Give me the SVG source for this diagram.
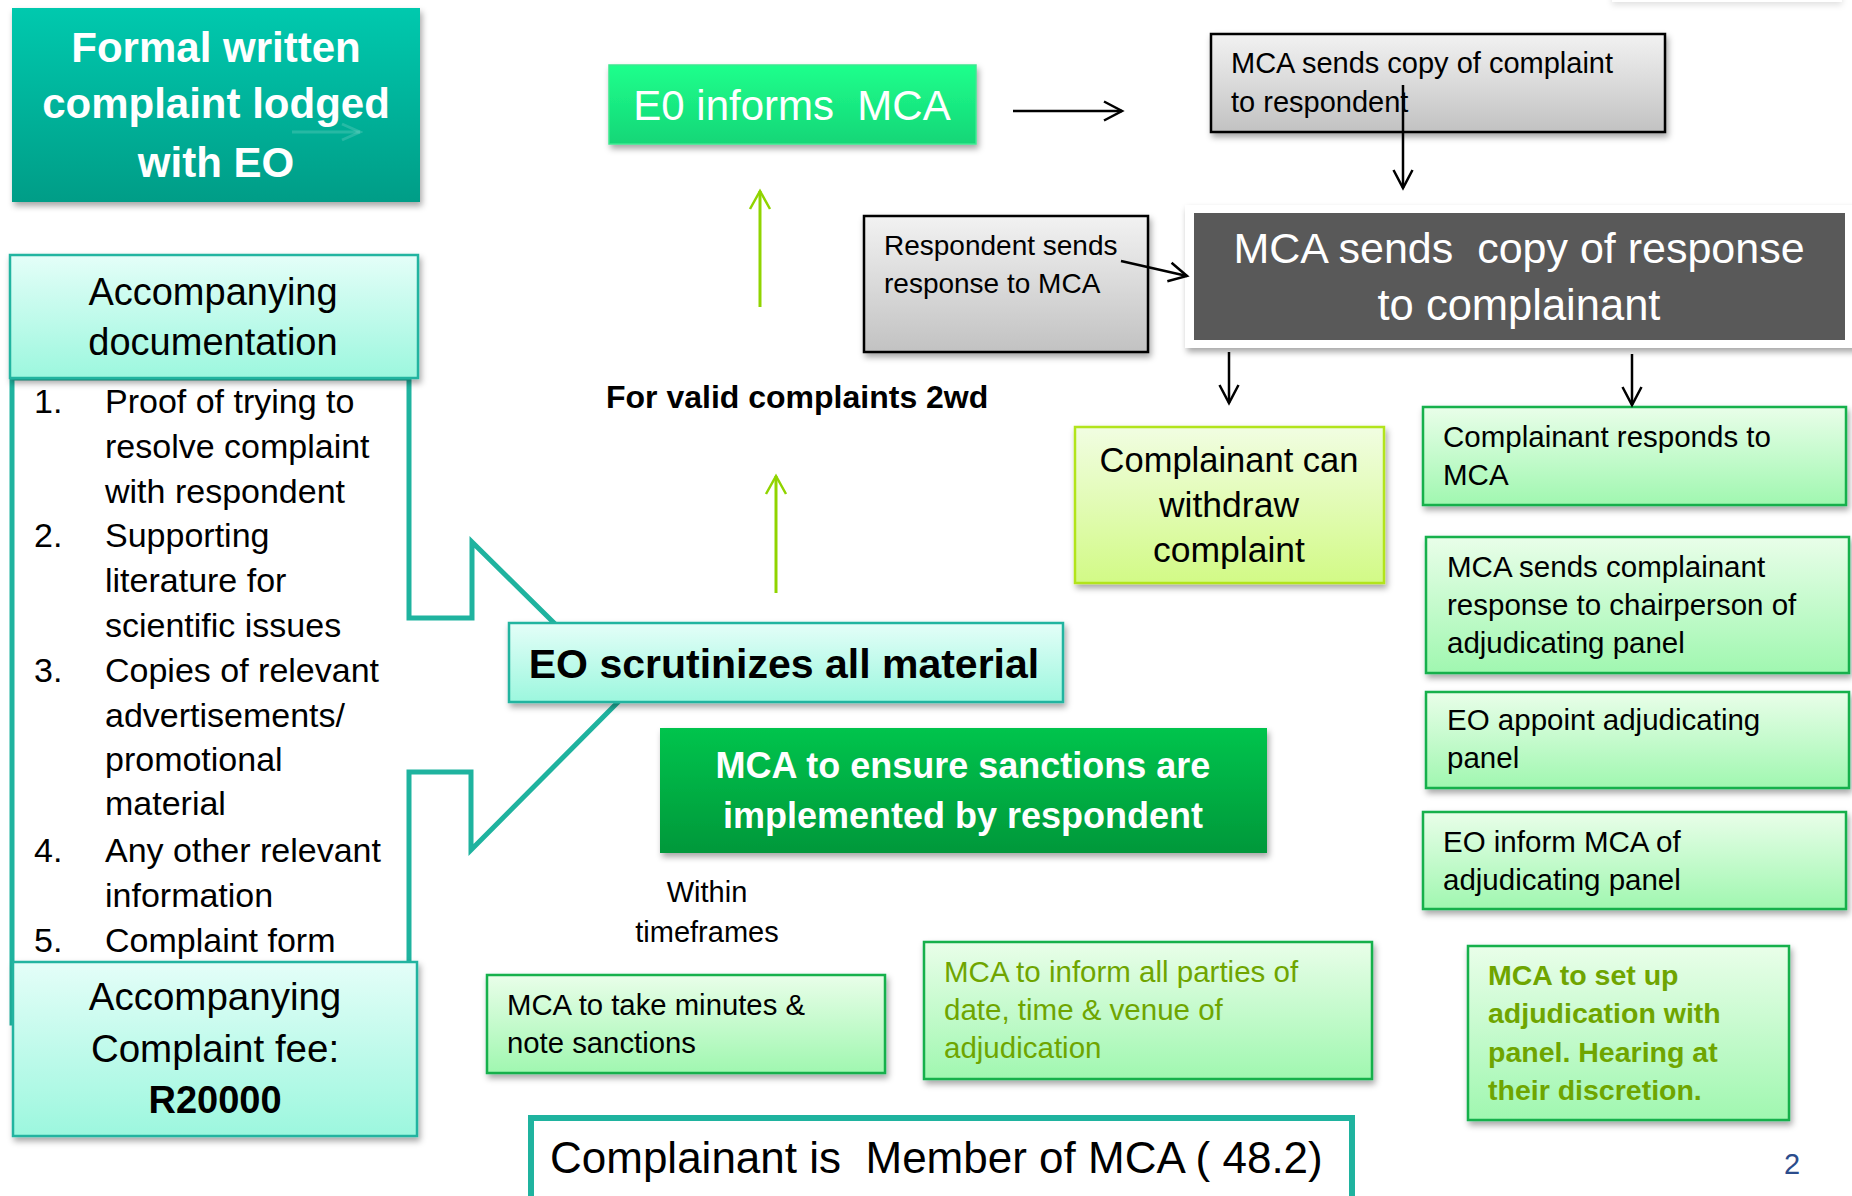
<svg xmlns="http://www.w3.org/2000/svg" width="1852" height="1196" viewBox="0 0 1852 1196">
<defs>
  <linearGradient id="gFormal" x1="0" y1="0" x2="0" y2="1"><stop offset="0" stop-color="#04c9ae"/><stop offset="1" stop-color="#009d87"/></linearGradient>
  <linearGradient id="gCyan" x1="0" y1="0" x2="0" y2="1"><stop offset="0" stop-color="#e4fef8"/><stop offset="1" stop-color="#9cf7de"/></linearGradient>
  <linearGradient id="gEO" x1="0" y1="0" x2="0" y2="1"><stop offset="0" stop-color="#1eff8c"/><stop offset="1" stop-color="#14d677"/></linearGradient>
  <linearGradient id="gGray" x1="0" y1="0" x2="0" y2="1"><stop offset="0" stop-color="#f2f2f2"/><stop offset="1" stop-color="#c2c2c2"/></linearGradient>
  <linearGradient id="gEnsure" x1="0" y1="0" x2="0" y2="1"><stop offset="0" stop-color="#00c44d"/><stop offset="1" stop-color="#00983a"/></linearGradient>
  <linearGradient id="gYellow" x1="0" y1="0" x2="0" y2="1"><stop offset="0" stop-color="#f1fde2"/><stop offset="1" stop-color="#d2fa86"/></linearGradient>
  <linearGradient id="gGreen" x1="0" y1="0" x2="0" y2="1"><stop offset="0" stop-color="#e9fee9"/><stop offset="1" stop-color="#a0f7b0"/></linearGradient>
  <filter id="sh" x="-10%" y="-20%" width="125%" height="150%">
    <feDropShadow dx="2" dy="4" stdDeviation="3" flood-color="#000" flood-opacity="0.35"/>
  </filter>
  <filter id="shLight" x="-10%" y="-50%" width="125%" height="250%">
    <feDropShadow dx="0" dy="3" stdDeviation="3" flood-color="#000" flood-opacity="0.12"/>
  </filter>
  <marker id="ah" markerUnits="userSpaceOnUse" markerWidth="24" markerHeight="24" viewBox="0 0 24 24" refX="21" refY="12" orient="auto">
    <path d="M3,2.5 L21,12 L3,21.5" fill="none" stroke="#000" stroke-width="2.5"/>
  </marker>
  <marker id="ahg" markerUnits="userSpaceOnUse" markerWidth="24" markerHeight="24" viewBox="0 0 24 24" refX="21" refY="12" orient="auto">
    <path d="M3,2 L21,12 L3,22" fill="none" stroke="#90d400" stroke-width="2.5"/>
  </marker>
  <marker id="ahf" markerUnits="userSpaceOnUse" markerWidth="24" markerHeight="24" viewBox="0 0 24 24" refX="21" refY="12" orient="auto">
    <path d="M3,4 L21,12 L3,20" fill="none" stroke="#ffffff" stroke-opacity="0.15" stroke-width="3"/>
  </marker>
</defs>
<style>
  text { font-family: "Liberation Sans", Arial, sans-serif; fill: #000; }
  .w { fill: #ffffff; }
  .b { font-weight: bold; }
  .mid { text-anchor: middle; }
  .pre { white-space: pre; }
  .gtxt { fill: #6fa500; }
  .cyan { fill: url(#gCyan); stroke: #20b4a0; stroke-width: 2.5; }
  .gray { fill: url(#gGray); stroke: #000; stroke-width: 2.5; }
  .green { fill: url(#gGreen); stroke: #12b04c; stroke-width: 2.5; }
  .conn { fill: none; stroke: #000; stroke-width: 2.5; marker-end: url(#ah); }
  .connG { fill: none; stroke: #90d400; stroke-width: 3; marker-end: url(#ahg); }
</style>

<rect x="0" y="0" width="1852" height="1196" fill="#ffffff"/>
<rect x="1612" y="-40" width="230" height="42" fill="#ffffff" filter="url(#shLight)"/>

<!-- documentation list with block arrow to EO scrutinizes -->
<g id="doc-list">
  <path d="M12,378 L409,378 L409,618 L472,618 L472,542 L626,694 L471,850 L471,772 L409,772 L409,1023 L12,1023 Z" fill="#ffffff" stroke="#1fb39f" stroke-width="5" stroke-linejoin="miter"/>
  <g font-size="34">
    <text x="34" y="413">1.</text><text x="105" y="413">Proof of trying to</text>
    <text x="105" y="458">resolve complaint</text>
    <text x="105" y="503">with respondent</text>
    <text x="34" y="547">2.</text><text x="105" y="547">Supporting</text>
    <text x="105" y="592">literature for</text>
    <text x="105" y="637">scientific issues</text>
    <text x="34" y="682">3.</text><text x="105" y="682">Copies of relevant</text>
    <text x="105" y="727">advertisements/</text>
    <text x="105" y="771">promotional</text>
    <text x="105" y="815">material</text>
    <text x="34" y="862">4.</text><text x="105" y="862">Any other relevant</text>
    <text x="105" y="907">information</text>
    <text x="34" y="952">5.</text><text x="105" y="952">Complaint form</text>
  </g>
</g>

<g id="formal-complaint">
  <rect x="12" y="8" width="408" height="194" fill="url(#gFormal)" filter="url(#sh)"/>
  <line x1="292" y1="132" x2="360" y2="132" stroke="#ffffff" stroke-opacity="0.15" stroke-width="3" marker-end="url(#ahf)"/>
  <g class="b mid" font-size="42">
    <text class="w" x="216" y="62">Formal written</text>
    <text class="w" x="216" y="118">complaint lodged</text>
    <text class="w" x="216" y="177">with EO</text>
  </g>
</g>

<g id="accompanying-documentation">
  <rect x="10" y="255" width="408" height="123" class="cyan" filter="url(#sh)"/>
  <text class="mid" x="213" y="305" font-size="38">Accompanying</text>
  <text class="mid" x="213" y="355" font-size="38">documentation</text>
</g>

<g id="complaint-fee">
  <rect x="13" y="962" width="404" height="174" class="cyan" filter="url(#sh)"/>
  <text class="mid" x="215" y="1010" font-size="38.5">Accompanying</text>
  <text class="mid" x="215" y="1062" font-size="38.5">Complaint fee:</text>
  <text class="mid b" x="215" y="1113" font-size="38">R20000</text>
</g>

<g id="eo-scrutinizes">
  <rect x="509" y="623" width="554" height="79" class="cyan" filter="url(#sh)"/>
  <text class="mid b" x="784" y="678" font-size="41">EO scrutinizes all material</text>
</g>

<g id="eo-informs-mca">
  <rect x="609" y="65" width="367" height="79" fill="url(#gEO)" stroke="#3ee890" stroke-width="1.5" filter="url(#sh)"/>
  <text class="mid w pre" x="792" y="120" font-size="42" xml:space="preserve">E0 informs  MCA</text>
</g>

<g id="valid-complaints-label">
  <text class="b" x="606" y="408" font-size="32">For valid complaints 2wd</text>
</g>

<g id="mca-sends-copy-complaint">
  <rect x="1211" y="34" width="454" height="98" class="gray" filter="url(#sh)"/>
  <text x="1231" y="73" font-size="29">MCA sends copy of complaint</text>
  <text x="1231" y="112" font-size="29">to respondent</text>
</g>

<g id="respondent-sends">
  <rect x="864" y="216" width="284" height="136" class="gray" filter="url(#sh)"/>
  <text x="884" y="255" font-size="28">Respondent sends</text>
  <text x="884" y="293" font-size="28">response to MCA</text>
</g>

<g id="mca-sends-copy-response">
  <rect x="1185" y="205" width="680" height="143" fill="#ffffff" filter="url(#sh)"/>
  <rect x="1194" y="213" width="651" height="127" fill="#595959"/>
  <text class="mid w pre" x="1519" y="263" font-size="43" xml:space="preserve">MCA sends  copy of response</text>
  <text class="mid w" x="1519" y="320" font-size="43.5">to complainant</text>
</g>

<g id="complainant-withdraw">
  <rect x="1075" y="427" width="309" height="156" fill="url(#gYellow)" stroke="#b2e41e" stroke-width="2.5" filter="url(#sh)"/>
  <text class="mid" x="1229" y="472" font-size="34.5">Complainant can</text>
  <text class="mid" x="1229" y="517" font-size="35.5">withdraw</text>
  <text class="mid" x="1229" y="562" font-size="35.5">complaint</text>
</g>

<g id="complainant-responds">
  <rect x="1423" y="407" width="423" height="98" class="green" filter="url(#sh)"/>
  <text x="1443" y="447" font-size="29.5">Complainant responds to</text>
  <text x="1443" y="485" font-size="29.5">MCA</text>
</g>

<g id="mca-sends-complainant-response">
  <rect x="1426" y="537" width="423" height="136" class="green" filter="url(#sh)"/>
  <text x="1447" y="577" font-size="29.5">MCA sends complainant</text>
  <text x="1447" y="615" font-size="29.5">response to chairperson of</text>
  <text x="1447" y="653" font-size="29.5">adjudicating panel</text>
</g>

<g id="eo-appoint-panel">
  <rect x="1426" y="692" width="423" height="96" class="green" filter="url(#sh)"/>
  <text x="1447" y="730" font-size="29.5">EO appoint adjudicating</text>
  <text x="1447" y="768" font-size="29.5">panel</text>
</g>

<g id="eo-inform-mca-panel">
  <rect x="1423" y="812" width="423" height="97" class="green" filter="url(#sh)"/>
  <text x="1443" y="852" font-size="29.5">EO inform MCA of</text>
  <text x="1443" y="890" font-size="29.5">adjudicating panel</text>
</g>

<g id="mca-set-up-adjudication">
  <rect x="1468" y="946" width="321" height="174" class="green" filter="url(#sh)"/>
  <g class="b gtxt" font-size="28.5">
    <text class="gtxt" x="1488" y="985">MCA to set up</text>
    <text class="gtxt" x="1488" y="1023">adjudication with</text>
    <text class="gtxt" x="1488" y="1062">panel. Hearing at</text>
    <text class="gtxt" x="1488" y="1100">their discretion.</text>
  </g>
</g>

<g id="mca-ensure-sanctions">
  <rect x="660" y="728" width="607" height="125" fill="url(#gEnsure)" filter="url(#sh)"/>
  <text class="mid b w" x="963" y="778" font-size="36">MCA to ensure sanctions are</text>
  <text class="mid b w" x="963" y="828" font-size="36">implemented by respondent</text>
</g>

<g id="within-timeframes">
  <text class="mid" x="707" y="902" font-size="29">Within</text>
  <text class="mid" x="707" y="942" font-size="29">timeframes</text>
</g>

<g id="mca-take-minutes">
  <rect x="487" y="975" width="398" height="98" class="green" filter="url(#sh)"/>
  <text x="507" y="1015" font-size="29.3">MCA to take minutes &amp;</text>
  <text x="507" y="1053" font-size="29.3">note sanctions</text>
</g>

<g id="mca-inform-parties">
  <rect x="924" y="942" width="448" height="137" class="green" filter="url(#sh)"/>
  <text class="gtxt" x="944" y="982" font-size="29.5">MCA to inform all parties of</text>
  <text class="gtxt" x="944" y="1020" font-size="29.5">date, time &amp; venue of</text>
  <text class="gtxt" x="944" y="1058" font-size="29.5">adjudication</text>
</g>

<g id="complainant-member">
  <rect x="531" y="1118" width="821" height="100" fill="#ffffff" stroke="#1fb39f" stroke-width="6"/>
  <text class="pre" x="550" y="1173" font-size="44" xml:space="preserve">Complainant is  Member of MCA ( 48.2)</text>
</g>

<g id="page-number">
  <text x="1784" y="1174" font-size="29" style="fill:#2b4c8c">2</text>
</g>

<g id="connectors">
  <line class="conn" x1="1013" y1="111" x2="1122" y2="111"/>
  <line class="conn" x1="1403" y1="85" x2="1403" y2="188"/>
  <line class="conn" x1="1121" y1="261" x2="1187" y2="276"/>
  <line class="conn" x1="1229" y1="352" x2="1229" y2="403"/>
  <line class="conn" x1="1632" y1="354" x2="1632" y2="405"/>
  <line class="connG" x1="760" y1="307" x2="760" y2="191"/>
  <line class="connG" x1="776" y1="593" x2="776" y2="476"/>
</g>
</svg>
